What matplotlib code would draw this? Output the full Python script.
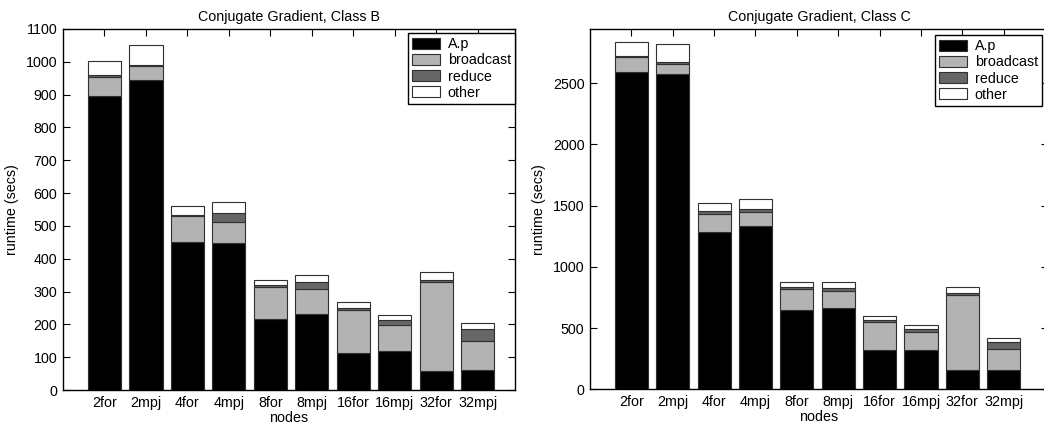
import numpy as np
import matplotlib
matplotlib.use("Agg")
import matplotlib.pyplot as plt

plt.rcParams['font.family'] = ['Liberation Sans', 'DejaVu Sans']
plt.rcParams['font.size'] = 10.3

nodes = ["2for", "2mpj", "4for", "4mpj", "8for", "8mpj", "16for", "16mpj", "32for", "32mpj"]
parts = ["A.p", "broadcast", "reduce", "other"]

# Class B (secs)
apB = [895, 945, 452, 449, 216, 233, 113, 120, 57, 61]
broadcastB = [58, 42, 78, 63, 97, 74, 130, 79, 271, 87]
reduceB = [7, 3, 4, 27, 6, 21, 7, 13, 7, 37]
otherB = [43, 60, 28, 34, 17, 21, 18, 16, 26, 18]

# Class C (secs)
apC = [2595, 2578, 1283, 1334, 645, 662, 318, 318, 155, 155]
broadcastC = [117, 80, 147, 117, 177, 138, 234, 150, 615, 172]
reduceC = [14, 14, 29, 19, 11, 25, 14, 25, 14, 57]
otherC = [111, 147, 66, 82, 41, 49, 30, 32, 54, 33]

colors = ["#000000", "#b3b3b3", "#666666", "#ffffff"]

W, H = 1044, 424
fig = plt.figure(figsize=(W / 100, H / 100), dpi=100)


def px(left, top, right, bottom):
    return [left / W, 1 - bottom / H, (right - left) / W, (bottom - top) / H]


def stackedPlot(ax, series, title, xmax, ymax, yticks, legendAnchor):
    x = np.arange(1, len(nodes) + 1)
    bottom = np.zeros(len(nodes))
    for vals, c, name in zip(series, colors, parts):
        ax.bar(x, vals, width=0.8, bottom=bottom, color=c, edgecolor="#303030",
               linewidth=0.8, label=name)
        bottom += np.array(vals)
    ax.set_xlim(0, xmax)
    ax.set_ylim(0, ymax)
    ax.set_xticks(x)
    ax.set_xticklabels(nodes)
    ax.set_yticks(yticks)
    ax.tick_params(direction="in", top=True, right=True, length=5, width=0.8, pad=4)
    for s in ax.spines.values():
        s.set_linewidth(1.0)
    ax.set_title(title, fontsize=10.3, pad=6)
    ax.set_xlabel("nodes", labelpad=1)
    ax.set_ylabel("runtime (secs)", labelpad=5)
    leg = ax.legend(loc="upper right", bbox_to_anchor=legendAnchor,
                    bbox_transform=fig.transFigure, borderaxespad=0,
                    fancybox=False, framealpha=1, edgecolor="black",
                    handlelength=2.0, handleheight=0.85, handletextpad=0.5,
                    labelspacing=0.15, borderpad=0.3)
    leg.get_frame().set_linewidth(1.0)
    for p in leg.get_patches():
        p.set_edgecolor("#303030")


axB = fig.add_axes(px(63, 29, 515, 390))
stackedPlot(axB, [apB, broadcastB, reduceB, otherB], "Conjugate Gradient, Class B",
            10.9, 1100, np.arange(0, 1101, 100), (515 / W, 1 - 33 / H))

axC = fig.add_axes(px(590, 29.3, 1048, 389.3))
stackedPlot(axC, [apC, broadcastC, reduceC, otherC], "Conjugate Gradient, Class C",
            11.07, 2941, np.arange(0, 2501, 500), (1042 / W, 1 - 35 / H))

fig.savefig("out.png", dpi=100)
